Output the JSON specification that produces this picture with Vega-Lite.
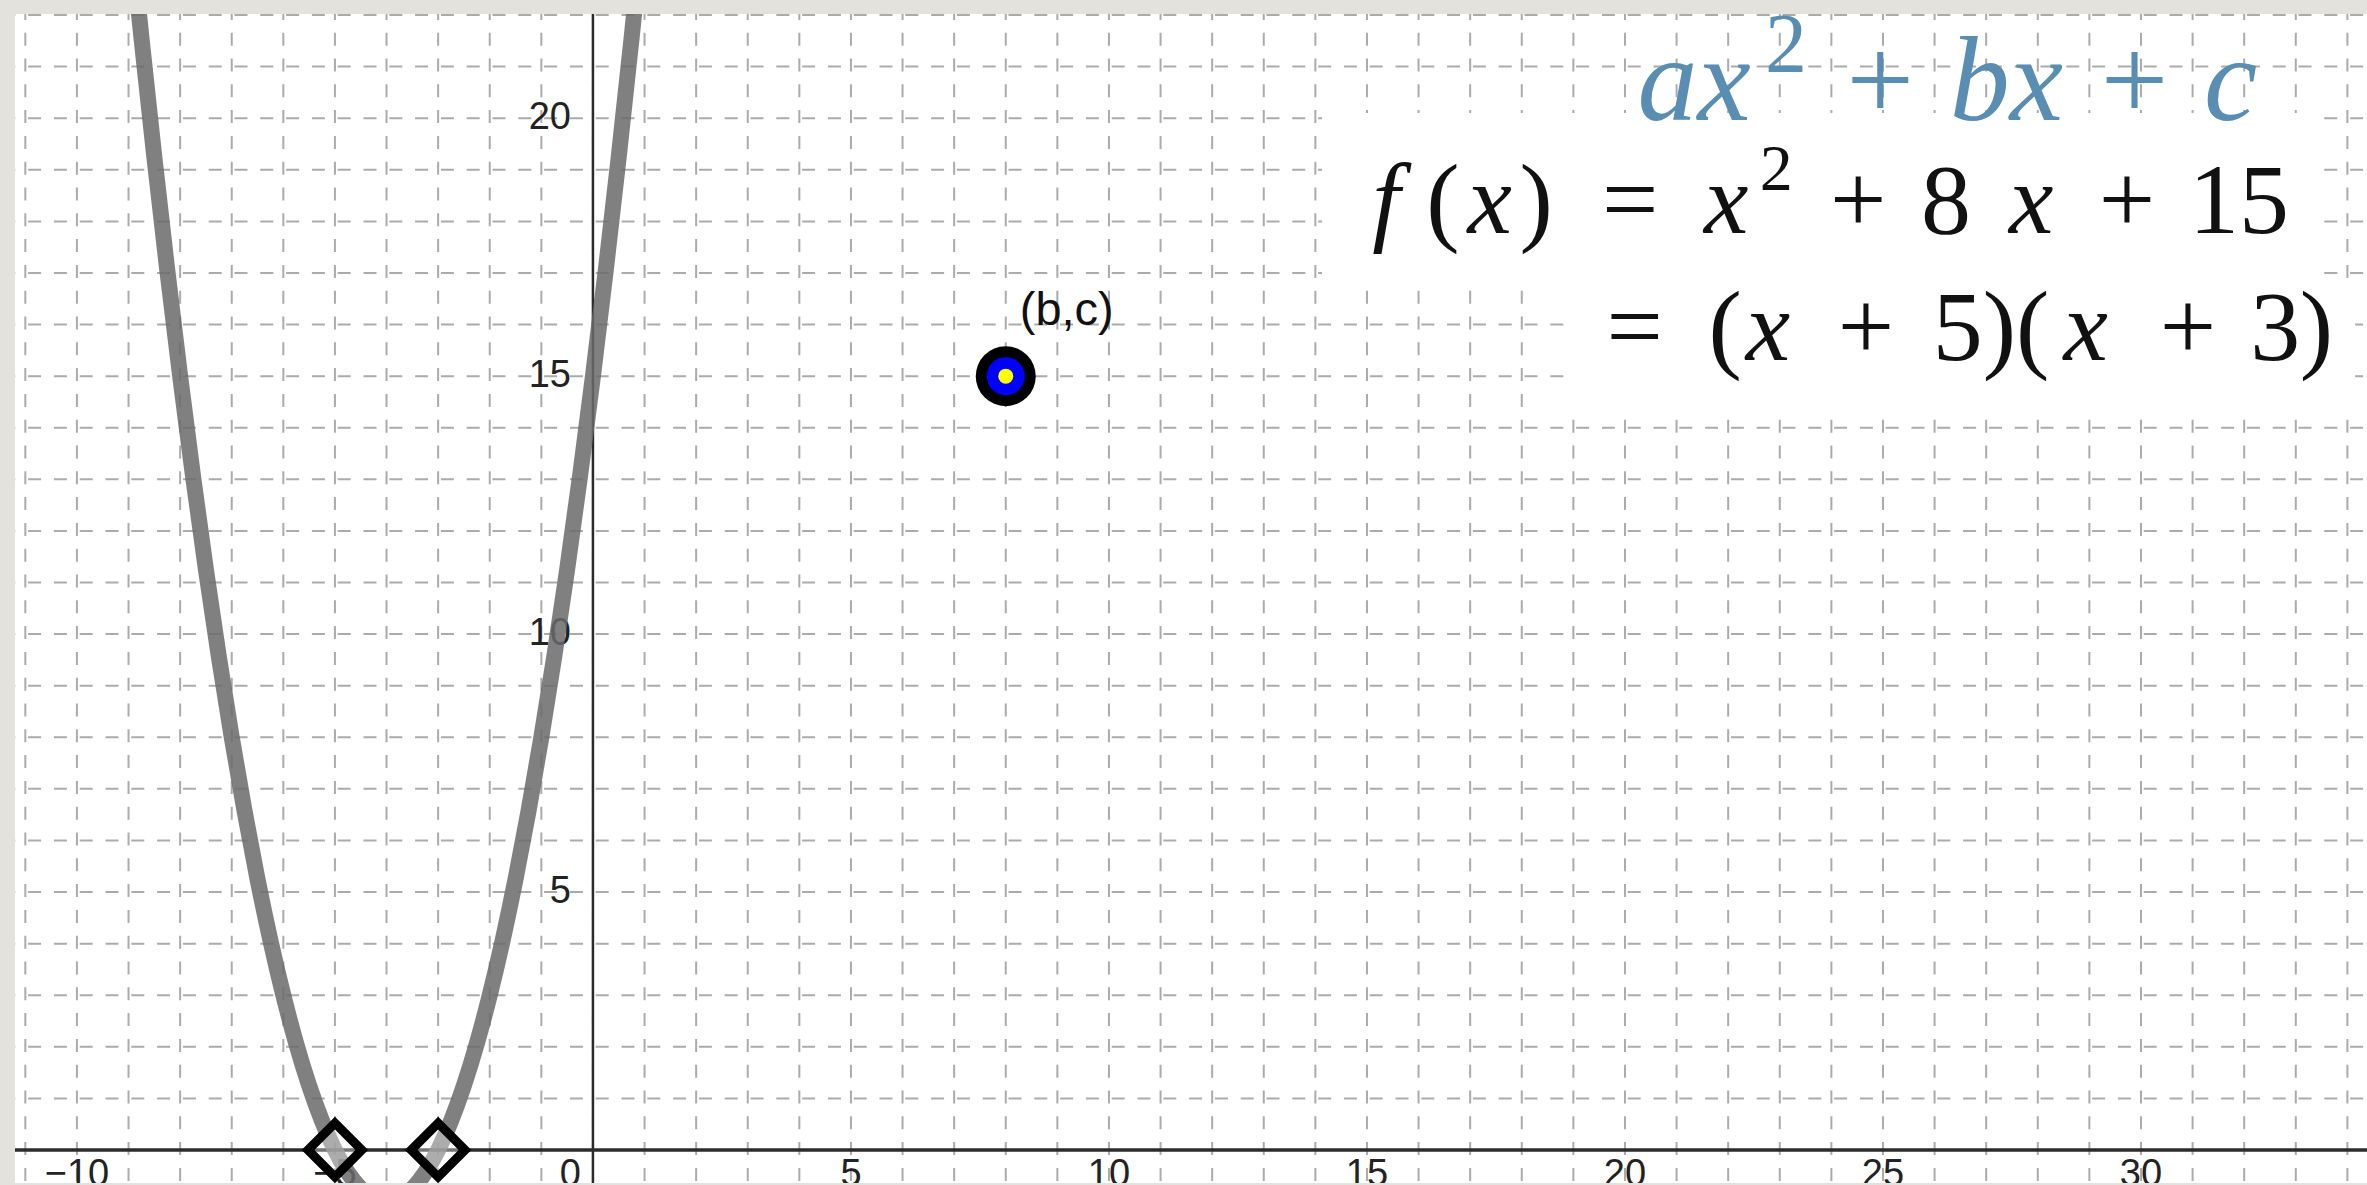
{
  "$schema": "https://vega.github.io/schema/vega-lite/v6.json",
  "width": 2352,
  "height": 1169,
  "autosize": {"type": "none"},
  "padding": {"left": 15, "top": 14, "right": 0, "bottom": 2},
  "background": "#e4e2dd",
  "view": {"fill": "white", "stroke": null},
  "datasets": {
    "vgrid": [
      {"x": -11}, {"x": -10}, {"x": -9}, {"x": -8}, {"x": -7}, {"x": -6}, {"x": -5}, {"x": -4}, {"x": -3}, {"x": -2}, {"x": -1}, {"x": 0},
      {"x": 1}, {"x": 2}, {"x": 3}, {"x": 4}, {"x": 5}, {"x": 6}, {"x": 7}, {"x": 8}, {"x": 9}, {"x": 10}, {"x": 11}, {"x": 12},
      {"x": 13}, {"x": 14}, {"x": 15}, {"x": 16}, {"x": 17}, {"x": 18}, {"x": 19}, {"x": 20}, {"x": 21}, {"x": 22}, {"x": 23},
      {"x": 24}, {"x": 25}, {"x": 26}, {"x": 27}, {"x": 28}, {"x": 29}, {"x": 30}, {"x": 31}, {"x": 32}, {"x": 33}, {"x": 34}
    ],
    "hgrid": [
      {"y": 1}, {"y": 2}, {"y": 3}, {"y": 4}, {"y": 5}, {"y": 6}, {"y": 7}, {"y": 8}, {"y": 9}, {"y": 10}, {"y": 11},
      {"y": 12}, {"y": 13}, {"y": 14}, {"y": 15}, {"y": 16}, {"y": 17}, {"y": 18}, {"y": 19}, {"y": 20}, {"y": 21}, {"y": 22}
    ],
    "boxes": [
      {"x": 14.13, "x2": 33.43, "y": 16.86, "y2": 20.1},
      {"x": 18.84, "x2": 34.15, "y": 14.34, "y2": 16.86}
    ],
    "curve": [
      {"x": -9, "y": 24}, {"x": -8.75, "y": 21.5625}, {"x": -8.5, "y": 19.25}, {"x": -8.25, "y": 17.0625},
      {"x": -8, "y": 15}, {"x": -7.75, "y": 13.0625}, {"x": -7.5, "y": 11.25}, {"x": -7.25, "y": 9.5625},
      {"x": -7, "y": 8}, {"x": -6.75, "y": 6.5625}, {"x": -6.5, "y": 5.25}, {"x": -6.25, "y": 4.0625},
      {"x": -6, "y": 3}, {"x": -5.75, "y": 2.0625}, {"x": -5.5, "y": 1.25}, {"x": -5.25, "y": 0.5625},
      {"x": -5, "y": 0}, {"x": -4.75, "y": -0.4375}, {"x": -4.5, "y": -0.75}, {"x": -4.25, "y": -0.9375},
      {"x": -4, "y": -1}, {"x": -3.75, "y": -0.9375}, {"x": -3.5, "y": -0.75}, {"x": -3.25, "y": -0.4375},
      {"x": -3, "y": 0}, {"x": -2.75, "y": 0.5625}, {"x": -2.5, "y": 1.25}, {"x": -2.25, "y": 2.0625},
      {"x": -2, "y": 3}, {"x": -1.75, "y": 4.0625}, {"x": -1.5, "y": 5.25}, {"x": -1.25, "y": 6.5625},
      {"x": -1, "y": 8}, {"x": -0.75, "y": 9.5625}, {"x": -0.5, "y": 11.25}, {"x": -0.25, "y": 13.0625},
      {"x": 0, "y": 15}, {"x": 0.25, "y": 17.0625}, {"x": 0.5, "y": 19.25}, {"x": 0.75, "y": 21.5625},
      {"x": 1, "y": 24}
    ],
    "roots": [{"x": -5, "y": 0}, {"x": -3, "y": 0}],
    "bc": [{"x": 8, "y": 15, "label": "(b,c)"}],
    "xticks": [
      {"x": -10, "label": "−10"}, {"x": -5, "label": "−5"}, {"x": 5, "label": "5"}, {"x": 10, "label": "10"},
      {"x": 15, "label": "15"}, {"x": 20, "label": "20"}, {"x": 25, "label": "25"}, {"x": 30, "label": "30"}
    ],
    "yticks": [
      {"y": 5, "label": "5"}, {"y": 10, "label": "10"}, {"y": 15, "label": "15"}, {"y": 20, "label": "20"}
    ],
    "origin": [{"x": 0, "y": 0, "label": "0"}],
    "upright": [
      {"t": "(", "x": 16.47, "y": 17.77}, {"t": ")", "x": 18.28, "y": 17.77}, {"t": "=", "x": 20.1, "y": 17.77},
      {"t": "+", "x": 24.52, "y": 17.77}, {"t": "8", "x": 26.22, "y": 17.77}, {"t": "+", "x": 29.73, "y": 17.77},
      {"t": "15", "x": 31.9, "y": 17.77},
      {"t": "=", "x": 20.19, "y": 15.31}, {"t": "(", "x": 21.94, "y": 15.31}, {"t": "+", "x": 24.67, "y": 15.31},
      {"t": "5", "x": 26.45, "y": 15.31}, {"t": ")(", "x": 27.58, "y": 15.31}, {"t": "+", "x": 30.91, "y": 15.31},
      {"t": "3", "x": 32.6, "y": 15.31}, {"t": ")", "x": 33.4, "y": 15.31}
    ],
    "italic": [
      {"t": "f", "x": 15.37, "y": 17.77}, {"t": "x", "x": 17.38, "y": 17.77}, {"t": "x", "x": 21.96, "y": 17.77},
      {"t": "x", "x": 27.87, "y": 17.77}, {"t": "x", "x": 22.77, "y": 15.31}, {"t": "x", "x": 28.93, "y": 15.31}
    ],
    "sup": [{"t": "2", "x": 22.93, "y": 18.6}],
    "blue": [{"t": "ax", "x": 21.34, "y": 19.96}, {"t": "+ bx + c", "x": 28.2, "y": 19.96}],
    "bluesup": [{"t": "2", "x": 23.12, "y": 20.89}]
  },
  "layer": [
    {
      "data": {"name": "vgrid"},
      "mark": {"type": "rule", "color": "#ababab", "strokeWidth": 2, "strokeDash": [13, 12.8], "strokeDashOffset": 7.1},
      "encoding": {
        "x": {"field": "x", "type": "quantitative", "axis": null,
              "scale": {"domain": [-11.2, 34.38], "nice": false, "zero": false}}
      }
    },
    {
      "data": {"name": "hgrid"},
      "mark": {"type": "rule", "color": "#ababab", "strokeWidth": 2, "strokeDash": [13, 12.8], "strokeDashOffset": 21.9},
      "encoding": {
        "y": {"field": "y", "type": "quantitative", "axis": null,
              "scale": {"domain": [-0.64, 22.02], "nice": false, "zero": false}}
      }
    },
    {
      "data": {"name": "boxes"},
      "mark": {"type": "rect", "fill": "white", "stroke": null},
      "encoding": {
        "x": {"field": "x", "type": "quantitative", "axis": null},
        "x2": {"field": "x2"},
        "y": {"field": "y", "type": "quantitative", "axis": null},
        "y2": {"field": "y2"}
      }
    },
    {
      "data": {"values": [{}]},
      "mark": {"type": "rule", "color": "#2b2b2b", "strokeWidth": 3.5},
      "encoding": {"y": {"datum": 0, "type": "quantitative", "axis": null}}
    },
    {
      "data": {"values": [{}]},
      "mark": {"type": "rule", "color": "#2b2b2b", "strokeWidth": 2.5},
      "encoding": {"x": {"datum": 0, "type": "quantitative", "axis": null}}
    },
    {
      "data": {"name": "yticks"},
      "mark": {"type": "text", "align": "right", "baseline": "middle", "dx": -22, "font": "Liberation Sans", "fontSize": 38, "color": "#222222"},
      "encoding": {
        "x": {"datum": 0, "type": "quantitative", "axis": null},
        "y": {"field": "y", "type": "quantitative", "axis": null},
        "text": {"field": "label"}
      }
    },
    {
      "data": {"name": "xticks"},
      "mark": {"type": "text", "align": "center", "baseline": "top", "dy": 6, "clip": true, "font": "Liberation Sans", "fontSize": 38, "color": "#222222"},
      "encoding": {
        "x": {"field": "x", "type": "quantitative", "axis": null},
        "y": {"datum": 0, "type": "quantitative", "axis": null},
        "text": {"field": "label"}
      }
    },
    {
      "data": {"name": "origin"},
      "mark": {"type": "text", "align": "right", "baseline": "top", "dx": -12, "dy": 6, "clip": true, "font": "Liberation Sans", "fontSize": 38, "color": "#222222"},
      "encoding": {
        "x": {"field": "x", "type": "quantitative", "axis": null},
        "y": {"field": "y", "type": "quantitative", "axis": null},
        "text": {"field": "label"}
      }
    },
    {
      "data": {"name": "curve"},
      "mark": {"type": "line", "clip": true, "color": "#6a6a6a", "opacity": 0.85, "strokeWidth": 16, "interpolate": "monotone"},
      "encoding": {
        "x": {"field": "x", "type": "quantitative", "axis": null},
        "y": {"field": "y", "type": "quantitative", "axis": null}
      }
    },
    {
      "data": {"name": "roots"},
      "mark": {"type": "point", "shape": "diamond", "size": 2900, "fill": "white", "fillOpacity": 0.35, "stroke": "black", "strokeWidth": 9, "opacity": 1},
      "encoding": {
        "x": {"field": "x", "type": "quantitative", "axis": null},
        "y": {"field": "y", "type": "quantitative", "axis": null}
      }
    },
    {
      "data": {"name": "bc"},
      "mark": {"type": "point", "shape": "circle", "size": 3600, "filled": true, "color": "black", "opacity": 1},
      "encoding": {
        "x": {"field": "x", "type": "quantitative", "axis": null},
        "y": {"field": "y", "type": "quantitative", "axis": null}
      }
    },
    {
      "data": {"name": "bc"},
      "mark": {"type": "point", "shape": "circle", "size": 1444, "filled": true, "color": "#0000ff", "opacity": 1},
      "encoding": {
        "x": {"field": "x", "type": "quantitative", "axis": null},
        "y": {"field": "y", "type": "quantitative", "axis": null}
      }
    },
    {
      "data": {"name": "bc"},
      "mark": {"type": "point", "shape": "circle", "size": 225, "filled": true, "color": "#ffff00", "opacity": 1},
      "encoding": {
        "x": {"field": "x", "type": "quantitative", "axis": null},
        "y": {"field": "y", "type": "quantitative", "axis": null}
      }
    },
    {
      "data": {"name": "bc"},
      "mark": {"type": "text", "align": "left", "baseline": "alphabetic", "dx": 14, "dy": -51, "font": "Liberation Sans", "fontSize": 47, "color": "#111111"},
      "encoding": {
        "x": {"field": "x", "type": "quantitative", "axis": null},
        "y": {"field": "y", "type": "quantitative", "axis": null},
        "text": {"field": "label"}
      }
    },
    {
      "data": {"name": "upright"},
      "mark": {"type": "text", "align": "center", "baseline": "alphabetic", "font": "Liberation Serif", "fontSize": 100, "color": "#111111"},
      "encoding": {
        "x": {"field": "x", "type": "quantitative", "axis": null},
        "y": {"field": "y", "type": "quantitative", "axis": null},
        "text": {"field": "t"}
      }
    },
    {
      "data": {"name": "italic"},
      "mark": {"type": "text", "align": "center", "baseline": "alphabetic", "font": "Liberation Serif", "fontStyle": "italic", "fontSize": 100, "color": "#111111"},
      "encoding": {
        "x": {"field": "x", "type": "quantitative", "axis": null},
        "y": {"field": "y", "type": "quantitative", "axis": null},
        "text": {"field": "t"}
      }
    },
    {
      "data": {"name": "sup"},
      "mark": {"type": "text", "align": "center", "baseline": "alphabetic", "font": "Liberation Serif", "fontSize": 66, "color": "#111111"},
      "encoding": {
        "x": {"field": "x", "type": "quantitative", "axis": null},
        "y": {"field": "y", "type": "quantitative", "axis": null},
        "text": {"field": "t"}
      }
    },
    {
      "data": {"name": "blue"},
      "mark": {"type": "text", "align": "center", "baseline": "alphabetic", "font": "Liberation Serif", "fontStyle": "italic", "fontSize": 120, "color": "#5a8db2"},
      "encoding": {
        "x": {"field": "x", "type": "quantitative", "axis": null},
        "y": {"field": "y", "type": "quantitative", "axis": null},
        "text": {"field": "t"}
      }
    },
    {
      "data": {"name": "bluesup"},
      "mark": {"type": "text", "align": "center", "baseline": "alphabetic", "font": "Liberation Serif", "fontSize": 84, "color": "#5a8db2"},
      "encoding": {
        "x": {"field": "x", "type": "quantitative", "axis": null},
        "y": {"field": "y", "type": "quantitative", "axis": null},
        "text": {"field": "t"}
      }
    }
  ]
}
